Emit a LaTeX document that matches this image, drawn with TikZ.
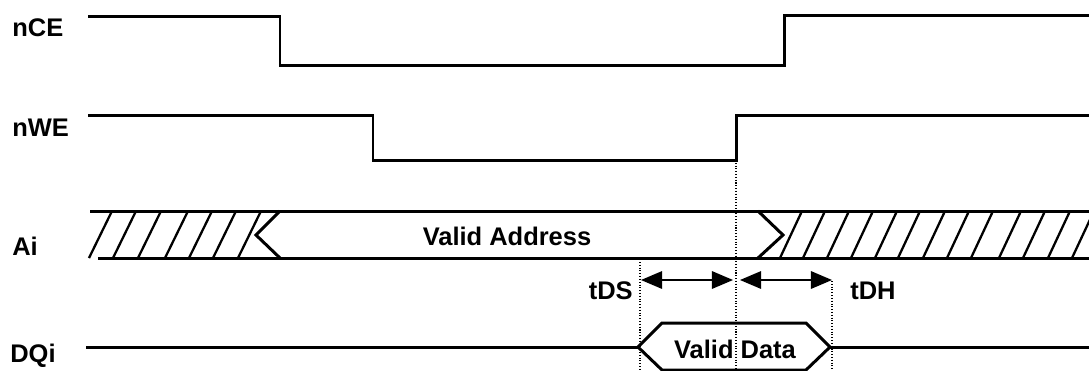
\documentclass[tikz,border=0pt]{standalone}
\usepackage{fontspec}
\setmainfont{Liberation Sans}
\usetikzlibrary{arrows.meta}
\begin{document}
\begin{tikzpicture}[x=0.02cm,y=-0.02cm,
  sig/.style={line width=1.7pt},
  hatch/.style={line width=1.3pt},
  guide/.style={densely dotted,line width=0.6pt},
  dim/.style={line width=0.8pt,{Triangle[length=12pt,width=10pt]}-{Triangle[length=12pt,width=10pt]}},
  lbl/.style={font=\fontsize{14.5}{17}\selectfont\bfseries,inner sep=0pt}]
  \useasboundingbox (0,0) rectangle (1089,370);

  % signal names
  \node[lbl,anchor=west] (nce) at (12,28) {nCE};
  \node[lbl,anchor=west] (nwe) at (12,128) {nWE};
  \node[lbl,anchor=west] (ai) at (12,246) {Ai};
  \node[lbl,anchor=west] (dqi) at (10,356) {DQi};

  % nCE
  \draw[sig] (88,16) -- (280,16) -- (280,65) -- (784,65) -- (784,15) -- (1089,15);

  % nWE
  \draw[sig] (88,115) -- (373,115) -- (373,160) -- (736,160) -- (736,115) -- (1089,115);

  % Ai bus
  \draw[sig] (90,211) -- (1089,211);
  \draw[sig] (98,258) -- (1089,258);
  \draw[sig] (280,211) -- (256,235) -- (280,258);
  \draw[sig] (758,211) -- (783,235) -- (758,258);
  \foreach \x in {89,113,138,165,189,213,238}
    \draw[hatch] (\x,258) -- (\x+23,211);
  \foreach \x in {780,803,827,851,875,898,923,947,971,999,1023,1048,1072}
    \draw[hatch] (\x,258) -- (\x+22,211);
  \node[lbl] (addr) at (507,236) {Valid Address};

  % timing guides
  \coordinate (wr) at (736,160);
  \coordinate (wrb) at (736,370);
  \coordinate (dsa) at (640,262);
  \coordinate (dsb) at (640,370);
  \coordinate (dha) at (832,281);
  \coordinate (dhb) at (832,370);
  \draw[guide] (wr) -- (wrb);
  \draw[guide] (dsa) -- (dsb);
  \draw[guide] (dha) -- (dhb);

  % setup / hold
  \coordinate (dsl) at (641,280);
  \coordinate (dsr) at (733,280);
  \coordinate (dhl) at (740,280);
  \coordinate (dhr) at (832,280);
  \draw[dim] (dsl) -- (dsr);
  \draw[dim] (dhl) -- (dhr);
  \node[lbl,anchor=east] (tds) at (633,291) {tDS};
  \node[lbl,anchor=west] (tdh) at (850,291) {tDH};

  % DQi
  \draw[sig] (86,347) -- (638,347);
  \draw[sig] (638,347) -- (662,323) -- (806,323) -- (830,347) -- (806,370) -- (662,370) -- cycle;
  \draw[sig] (830,347) -- (1089,347);
  \node[lbl] (data) at (735,349) {Valid Data};
\end{tikzpicture}
\end{document}
